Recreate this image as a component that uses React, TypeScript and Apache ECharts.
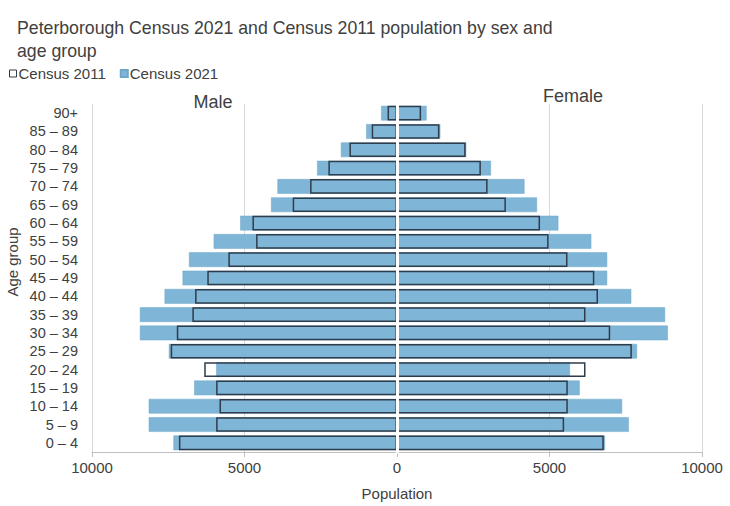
import React, { useEffect, useRef } from "react";
import * as echarts from "echarts";

const categories = ["0 – 4", "5 – 9", "10 – 14", "15 – 19", "20 – 24", "25 – 29", "30 – 34", "35 – 39", "40 – 44", "45 – 49", "50 – 54", "55 – 59", "60 – 64", "65 – 69", "70 – 74", "75 – 79", "80 – 84", "85 – 89", "90+"];
const male2021 = [7330, 8140, 8140, 6650, 5930, 7480, 8430, 8430, 7620, 7030, 6820, 6010, 5140, 4130, 3920, 2620, 1840, 1010, 520];
const male2011 = [7150, 5930, 5820, 5930, 6320, 7420, 7220, 6710, 6620, 6220, 5530, 4620, 4740, 3420, 2850, 2250, 1560, 830, 310];
const female2021 = [6820, 7600, 7380, 5990, 5670, 7870, 8880, 8790, 7680, 6890, 6890, 6370, 5290, 4590, 4180, 3080, 2270, 1420, 970];
const female2011 = [6780, 5480, 5600, 5600, 6180, 7700, 6990, 6180, 6590, 6470, 5590, 4970, 4690, 3570, 2970, 2750, 2250, 1390, 790];
const xTicks = { min: -10000, max: 10000, interval: 5000 };

const FILL = "#7fb6d7";
const OUTLINE = "#2f3c4b";
const TEXT = "#404040";
const FONT = "Liberation Sans, Arial, sans-serif";

export default function App() {
  const ref = useRef<HTMLDivElement>(null);
  useEffect(() => {
    if (!ref.current) return;
    const chart = echarts.init(ref.current, undefined, { renderer: "svg" });
    const bar2021 = {
      type: "bar",
      name: "Census 2021",
      barWidth: "80%",
      barGap: "-100%",
      itemStyle: { color: FILL, borderColor: "#6fa6c8", borderWidth: 0.5 },
      z: 2,
    };
    const bar2011 = {
      type: "bar",
      name: "Census 2011",
      barWidth: "80%",
      barGap: "-100%",
      itemStyle: { color: "rgba(255,255,255,0)", borderColor: OUTLINE, borderWidth: 1.5 },
      z: 3,
    };
    chart.setOption({
      animation: false,
      textStyle: { fontFamily: FONT },
      title: {
        text: "Peterborough Census 2021 and Census 2011 population by sex and\nage group",
        left: 12,
        top: 11,
        textStyle: { fontFamily: FONT, fontSize: 17.7, fontWeight: "normal", color: TEXT, lineHeight: 23 },
      },
      legend: {
        left: 4,
        top: 61,
        icon: "rect",
        itemWidth: 7,
        itemHeight: 7,
        itemGap: 14,
        data: [
          { name: "Census 2011", itemStyle: { color: "#ffffff", borderColor: OUTLINE, borderWidth: 1 } },
          { name: "Census 2021" },
        ],
        textStyle: { fontFamily: FONT, fontSize: 15, color: TEXT, padding: [0, 0, 0, -3] },
      },
      grid: { left: 92, right: 28, top: 104, bottom: 54, containLabel: false },
      xAxis: {
        type: "value",
        min: xTicks.min,
        max: xTicks.max,
        interval: xTicks.interval,
        name: "Population",
        nameLocation: "middle",
        nameGap: 34,
        nameTextStyle: { fontFamily: FONT, fontSize: 15, color: TEXT },
        axisLine: { show: true, onZero: false, lineStyle: { color: "#bfbfbf", width: 1 } },
        axisTick: { show: true, length: 5, lineStyle: { color: "#bfbfbf" } },
        axisLabel: {
          fontFamily: FONT,
          fontSize: 15,
          color: TEXT,
          margin: 8,
          formatter: (v: number) => String(Math.abs(v)),
        },
        splitLine: { show: true, lineStyle: { color: "#d9d9d9", width: 1 } },
      },
      yAxis: [
        {
          type: "category",
          data: categories,
          axisLine: { show: false, onZero: false },
          axisTick: { show: false },
          axisLabel: { fontFamily: FONT, fontSize: 14.5, color: TEXT, margin: 14, interval: 0, hideOverlap: false },
        },
        {
          type: "category",
          data: categories,
          position: "left",
          axisLine: { show: true, onZero: true, lineStyle: { color: "#ffffff", width: 3 } },
          axisTick: { show: false },
          axisLabel: { show: false },
          z: 10,
        },
      ],
      graphic: [
        { type: "text", x: 213, y: 102, style: { text: "Male", font: `18px ${FONT}`, fill: TEXT, align: "center", verticalAlign: "middle" } },
        { type: "text", x: 573, y: 96, style: { text: "Female", font: `18px ${FONT}`, fill: TEXT, align: "center", verticalAlign: "middle" } },
        { type: "text", x: 12, y: 262, rotation: Math.PI / 2, style: { text: "Age group", font: `15px ${FONT}`, fill: TEXT, align: "center", verticalAlign: "middle" } },
      ],
      series: [
        { ...bar2021, data: male2021.map((v) => -v) },
        { ...bar2021, data: female2021 },
        { ...bar2011, data: male2011.map((v) => -v) },
        { ...bar2011, data: female2011 },
      ],
    });
    return () => chart.dispose();
  }, []);
  return <div ref={ref} style={{ position: "fixed", left: 0, top: 0, width: 730, height: 506, background: "#ffffff" }} />;
}
